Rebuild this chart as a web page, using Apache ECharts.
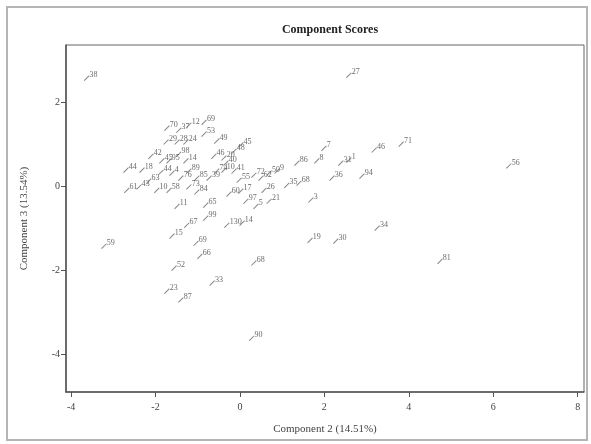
<!DOCTYPE html>
<html>
<head>
<meta charset="utf-8">
<script src="https://cdn.jsdelivr.net/npm/echarts@6/dist/echarts.min.js"></script>
<style>
html,body{margin:0;padding:0;background:#fff;}
#chart{width:591px;height:444px;}
</style>
</head>
<body>
<div id="chart"></div>
<script>
// Component scores (Component 2 on x, Component 3 on y), labelled by observation id
const pointLabels = [
  '38','27','56','81','71','46','34','30','19','90','68','33','66','52','23','87','59','15','69','67','99','130','14','11','65',
  '70','37','12','69','29','28','24','53','49','46','42','45','95','98','14','20','45','48','40','10','41','74','39','55','17','60','44','18','44','4','76','89','85','61','43','63','10','58','73','84','72',
  '62','50','9','26','21','97','5','35','68','3','86','8','7','36','31','1','94'
];
const xValues = [
  -3.63, 2.58, 6.37, 4.74, 3.82, 3.18, 3.25, 2.27, 1.66, 0.28, 0.33, -0.66, -0.95, -1.56, -1.73, -1.40, -3.22, -1.61, -1.04, -1.26, -0.81, -0.31, 0.05, -1.49, -0.81,
  -1.73, -1.45, -1.21, -0.85, -1.75, -1.49, -1.28, -0.85, -0.55, -0.62, -2.11, -1.85, -1.68, -1.45, -1.28, -0.38, 0.02, -0.14, -0.33, -0.38, -0.14, -0.55, -0.73, -0.02, 0.02, -0.26, -2.70, -2.32, -1.87, -1.61, -1.40, -1.21, -1.02, -2.68, -2.39, -2.16, -1.97, -1.68, -1.21, -1.02,
  0.33, 0.50, 0.69, 0.88, 0.57, 0.69, 0.14, 0.38, 1.11, 1.40, 1.68, 1.35, 1.82, 1.99, 2.18, 2.39, 2.58, 2.89
];
const yValues = [
  2.57, 2.64, 0.48, -1.79, 1.00, 0.86, -1.00, -1.31, -1.29, -3.62, -1.83, -2.31, -1.67, -1.95, -2.50, -2.71, -1.43, -1.19, -1.36, -0.93, -0.76, -0.93, -0.88, -0.48, -0.45,
  1.38, 1.33, 1.45, 1.52, 1.05, 1.05, 1.05, 1.24, 1.07, 0.71, 0.71, 0.60, 0.60, 0.76, 0.60, 0.67, 0.98, 0.83, 0.55, 0.38, 0.36, 0.36, 0.19, 0.14, -0.12, -0.19, 0.38, 0.38, 0.33, 0.31, 0.19, 0.36, 0.19, -0.10, -0.02, 0.12, -0.10, -0.10, -0.02, -0.14,
  0.26, 0.19, 0.31, 0.36, -0.10, -0.36, -0.36, -0.48, 0.02, 0.07, -0.33, 0.55, 0.60, 0.90, 0.19, 0.55, 0.62, 0.24
];
const xTicks = [-4, -2, 0, 2, 4, 6, 8];
const yTicks = [-4, -2, 0, 2];

const data = xValues.map((x, i) => ({ value: [x, yValues[i]], name: pointLabels[i] }));
const serif = 'Liberation Serif';

const chart = echarts.init(document.getElementById('chart'), null, { renderer: 'canvas' });
chart.setOption({
  animation: false,
  backgroundColor: '#fff',
  title: {
    text: 'Component Scores',
    left: 325, top: 19, textAlign: 'center',
    textStyle: { fontFamily: serif, fontWeight: 'bold', fontSize: 12, color: '#222' }
  },
  graphic: [{
    type: 'rect', silent: true, z: -1,
    shape: { x: 7, y: 7, width: 580, height: 433 },
    style: { fill: 'none', stroke: '#b5b5b5', lineWidth: 2 }
  }],
  grid: { left: 66, right: 7, top: 45, bottom: 52, show: true, borderColor: '#666', borderWidth: 1, backgroundColor: 'transparent' },
  xAxis: {
    type: 'value', min: -4.12, max: 8.15,
    name: 'Component 2 (14.51%)', nameLocation: 'middle', nameGap: 32,
    nameTextStyle: { fontFamily: serif, fontSize: 11, color: '#444' },
    axisLine: { show: true, onZero: false, lineStyle: { color: '#555', width: 1.5 } },
    axisTick: { show: true, inside: false, length: 5, customValues: xTicks, lineStyle: { color: '#555' } },
    axisLabel: { customValues: xTicks, fontFamily: serif, fontSize: 10, color: '#444', margin: 10 },
    splitLine: { show: false }
  },
  yAxis: {
    type: 'value', min: -4.9, max: 3.36,
    name: 'Component 3 (13.54%)', nameLocation: 'middle', nameGap: 36,
    nameTextStyle: { fontFamily: serif, fontSize: 11, color: '#444' },
    axisLine: { show: true, onZero: false, lineStyle: { color: '#555', width: 1.5 } },
    axisTick: { show: true, inside: false, length: 5, customValues: yTicks, lineStyle: { color: '#555' } },
    axisLabel: { customValues: yTicks, fontFamily: serif, fontSize: 10, color: '#444', margin: 6 },
    splitLine: { show: false }
  },
  series: [{
    type: 'scatter',
    data: data,
    symbol: 'rect',
    symbolSize: [1, 7],
    symbolRotate: -45,
    itemStyle: { color: '#666' },
    label: {
      show: true, position: 'right', distance: 0, offset: [0, -3],
      formatter: p => p.name,
      fontFamily: serif, fontSize: 8, color: '#444'
    }
  }]
});
</script>
</body>
</html>
